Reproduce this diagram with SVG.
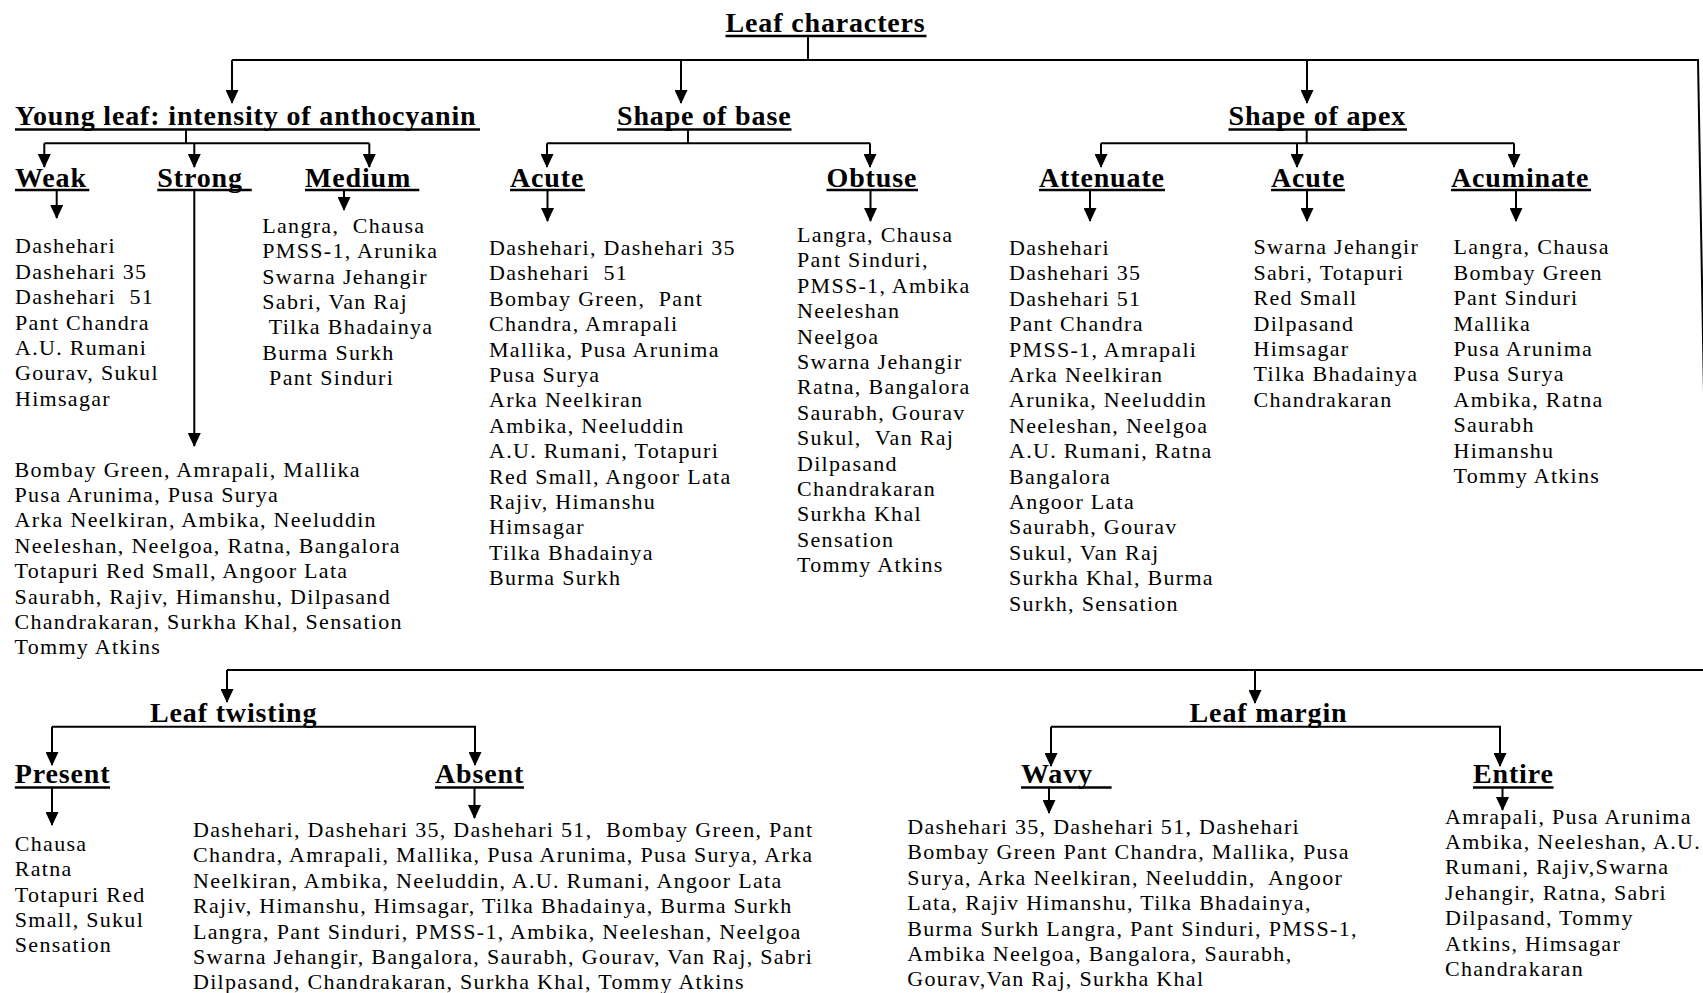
<svg xmlns="http://www.w3.org/2000/svg" width="1703" height="993" viewBox="0 0 1703 993">
<style>
.h{font-family:"Liberation Serif","Times New Roman",serif;font-weight:bold;font-size:28px;letter-spacing:0.85px;fill:#000}
.t{font-family:"Liberation Serif","Times New Roman",serif;font-size:22px;letter-spacing:1.3px;fill:#000}
.ul{stroke:#000;stroke-width:2.6;fill:none}
.c{stroke:#000;stroke-width:2;fill:none}
.a{marker-end:url(#ah)}
</style>
<defs>
<marker id="ah" markerUnits="userSpaceOnUse" markerWidth="14" markerHeight="13" refX="13" refY="6.5" orient="auto">
<path d="M0,0 L14,6.5 L0,13 Z" fill="#000"/>
</marker>
</defs>
<rect width="1703" height="993" fill="#fff"/>

<g id="connectors">
<path class="c" d="M808,37 V60 M232,60 H1698 L1709,670"/>
<path class="c a" d="M232,60 V103"/>
<path class="c a" d="M681,60 V103"/>
<path class="c a" d="M1307,60 V103"/>
<path class="c" d="M186,130 V143.3 M44.3,143.3 H369.3"/>
<path class="c a" d="M44.3,143.3 V167"/>
<path class="c a" d="M194.3,143.3 V167"/>
<path class="c a" d="M369.3,143.3 V167"/>
<path class="c" d="M688,130 V143.3 M547,143.3 H870"/>
<path class="c a" d="M547,143.3 V167"/>
<path class="c a" d="M870,143.3 V167"/>
<path class="c" d="M1306.7,130 V143.3 M1101,143.3 H1514"/>
<path class="c a" d="M1101,143.3 V167"/>
<path class="c a" d="M1297,143.3 V167"/>
<path class="c a" d="M1514,143.3 V167"/>
<path class="c a" d="M56.7,190 V218"/>
<path class="c a" d="M194.3,190 V446"/>
<path class="c a" d="M344,190 V210"/>
<path class="c a" d="M547.5,190 V221"/>
<path class="c a" d="M870.5,190 V221"/>
<path class="c a" d="M1090,190 V221"/>
<path class="c a" d="M1307,190 V221"/>
<path class="c a" d="M1516,190 V221"/>
<path class="c" d="M227,670 H1703"/>
<path class="c a" d="M227,670 V702"/>
<path class="c a" d="M1255,670 V703"/>
<path class="c" d="M52,726.7 H476"/>
<path class="c a" d="M52,726.7 V765"/>
<path class="c a" d="M475,726.7 V765"/>
<path class="c" d="M1051,726.7 H1501"/>
<path class="c a" d="M1051,726.7 V766"/>
<path class="c a" d="M1500,726.7 V766"/>
<path class="c a" d="M52,788 V825"/>
<path class="c a" d="M474.5,788 V818"/>
<path class="c a" d="M1049,788 V813"/>
<path class="c a" d="M1502.5,788 V810"/>
</g>

<g id="leaf-characters"><text class="h" x="725.5" y="32">Leaf characters</text><path class="ul" d="M725.5,36 H926.5"/></g>

<g id="young-leaf"><text class="h" x="15" y="125">Young leaf: intensity of anthocyanin</text><path class="ul" d="M15,129.5 H480"/></g>
<g id="shape-of-base"><text class="h" x="617" y="125">Shape of base</text><path class="ul" d="M617,129.5 H791.5"/></g>
<g id="shape-of-apex"><text class="h" x="1228.5" y="125">Shape of apex</text><path class="ul" d="M1228.5,129.5 H1407"/></g>

<g id="weak"><text class="h" x="15" y="186.7">Weak</text><path class="ul" d="M15,190 H89.3"/></g>
<g id="strong"><text class="h" x="157.3" y="186.7">Strong</text><path class="ul" d="M157.3,190 H251.7"/></g>
<g id="medium"><text class="h" x="305" y="186.7">Medium</text><path class="ul" d="M305,190 H419.3"/></g>
<g id="base-acute"><text class="h" x="510" y="186.7">Acute</text><path class="ul" d="M510,190 H585"/></g>
<g id="obtuse"><text class="h" x="826.5" y="186.7">Obtuse</text><path class="ul" d="M826.5,190 H918"/></g>
<g id="attenuate"><text class="h" x="1039" y="186.7">Attenuate</text><path class="ul" d="M1039,190 H1165"/></g>
<g id="apex-acute"><text class="h" x="1271" y="186.7">Acute</text><path class="ul" d="M1271,190 H1345"/></g>
<g id="acuminate"><text class="h" x="1451" y="186.7">Acuminate</text><path class="ul" d="M1451,190 H1591"/></g>

<g id="list-weak"><text class="t" x="15" y="253.3">
<tspan x="15" dy="0">Dashehari</tspan>
<tspan x="15" dy="25.4">Dashehari 35</tspan>
<tspan x="15" dy="25.4" xml:space="preserve">Dashehari  51</tspan>
<tspan x="15" dy="25.4">Pant Chandra</tspan>
<tspan x="15" dy="25.4">A.U. Rumani</tspan>
<tspan x="15" dy="25.4">Gourav, Sukul</tspan>
<tspan x="15" dy="25.4">Himsagar</tspan>
</text></g>

<g id="list-medium"><text class="t" x="262.3" y="232.7">
<tspan x="262.3" dy="0" xml:space="preserve">Langra,  Chausa</tspan>
<tspan x="262.3" dy="25.4">PMSS-1, Arunika</tspan>
<tspan x="262.3" dy="25.4">Swarna Jehangir</tspan>
<tspan x="262.3" dy="25.4">Sabri, Van Raj</tspan>
<tspan x="262.3" dy="25.4" xml:space="preserve"> Tilka Bhadainya</tspan>
<tspan x="262.3" dy="25.4">Burma Surkh</tspan>
<tspan x="262.3" dy="25.4" xml:space="preserve"> Pant Sinduri</tspan>
</text></g>

<g id="list-strong"><text class="t" x="14.5" y="476.5">
<tspan x="14.5" dy="0">Bombay Green, Amrapali, Mallika</tspan>
<tspan x="14.5" dy="25.4">Pusa Arunima, Pusa Surya</tspan>
<tspan x="14.5" dy="25.4">Arka Neelkiran, Ambika, Neeluddin</tspan>
<tspan x="14.5" dy="25.4">Neeleshan, Neelgoa, Ratna, Bangalora</tspan>
<tspan x="14.5" dy="25.4">Totapuri Red Small, Angoor Lata</tspan>
<tspan x="14.5" dy="25.4">Saurabh, Rajiv, Himanshu, Dilpasand</tspan>
<tspan x="14.5" dy="25.4">Chandrakaran, Surkha Khal, Sensation</tspan>
<tspan x="14.5" dy="25.4">Tommy Atkins</tspan>
</text></g>

<g id="list-base-acute"><text class="t" x="489" y="255">
<tspan x="489" dy="0">Dashehari, Dashehari 35</tspan>
<tspan x="489" dy="25.4" xml:space="preserve">Dashehari  51</tspan>
<tspan x="489" dy="25.4" xml:space="preserve">Bombay Green,  Pant</tspan>
<tspan x="489" dy="25.4">Chandra, Amrapali</tspan>
<tspan x="489" dy="25.4">Mallika, Pusa Arunima</tspan>
<tspan x="489" dy="25.4">Pusa Surya</tspan>
<tspan x="489" dy="25.4">Arka Neelkiran</tspan>
<tspan x="489" dy="25.4">Ambika, Neeluddin</tspan>
<tspan x="489" dy="25.4">A.U. Rumani, Totapuri</tspan>
<tspan x="489" dy="25.4">Red Small, Angoor Lata</tspan>
<tspan x="489" dy="25.4">Rajiv, Himanshu</tspan>
<tspan x="489" dy="25.4">Himsagar</tspan>
<tspan x="489" dy="25.4">Tilka Bhadainya</tspan>
<tspan x="489" dy="25.4">Burma Surkh</tspan>
</text></g>

<g id="list-obtuse"><text class="t" x="797" y="242">
<tspan x="797" dy="0">Langra, Chausa</tspan>
<tspan x="797" dy="25.4">Pant Sinduri,</tspan>
<tspan x="797" dy="25.4">PMSS-1, Ambika</tspan>
<tspan x="797" dy="25.4">Neeleshan</tspan>
<tspan x="797" dy="25.4">Neelgoa</tspan>
<tspan x="797" dy="25.4">Swarna Jehangir</tspan>
<tspan x="797" dy="25.4">Ratna, Bangalora</tspan>
<tspan x="797" dy="25.4">Saurabh, Gourav</tspan>
<tspan x="797" dy="25.4" xml:space="preserve">Sukul,  Van Raj</tspan>
<tspan x="797" dy="25.4">Dilpasand</tspan>
<tspan x="797" dy="25.4">Chandrakaran</tspan>
<tspan x="797" dy="25.4">Surkha Khal</tspan>
<tspan x="797" dy="25.4">Sensation</tspan>
<tspan x="797" dy="25.4">Tommy Atkins</tspan>
</text></g>

<g id="list-attenuate"><text class="t" x="1009" y="255">
<tspan x="1009" dy="0">Dashehari</tspan>
<tspan x="1009" dy="25.4">Dashehari 35</tspan>
<tspan x="1009" dy="25.4">Dashehari 51</tspan>
<tspan x="1009" dy="25.4">Pant Chandra</tspan>
<tspan x="1009" dy="25.4">PMSS-1, Amrapali</tspan>
<tspan x="1009" dy="25.4">Arka Neelkiran</tspan>
<tspan x="1009" dy="25.4">Arunika, Neeluddin</tspan>
<tspan x="1009" dy="25.4">Neeleshan, Neelgoa</tspan>
<tspan x="1009" dy="25.4">A.U. Rumani, Ratna</tspan>
<tspan x="1009" dy="25.4">Bangalora</tspan>
<tspan x="1009" dy="25.4">Angoor Lata</tspan>
<tspan x="1009" dy="25.4">Saurabh, Gourav</tspan>
<tspan x="1009" dy="25.4">Sukul, Van Raj</tspan>
<tspan x="1009" dy="25.4">Surkha Khal, Burma</tspan>
<tspan x="1009" dy="25.4">Surkh, Sensation</tspan>
</text></g>

<g id="list-apex-acute"><text class="t" x="1253.5" y="254.3">
<tspan x="1253.5" dy="0">Swarna Jehangir</tspan>
<tspan x="1253.5" dy="25.4">Sabri, Totapuri</tspan>
<tspan x="1253.5" dy="25.4">Red Small</tspan>
<tspan x="1253.5" dy="25.4">Dilpasand</tspan>
<tspan x="1253.5" dy="25.4">Himsagar</tspan>
<tspan x="1253.5" dy="25.4">Tilka Bhadainya</tspan>
<tspan x="1253.5" dy="25.4">Chandrakaran</tspan>
</text></g>

<g id="list-acuminate"><text class="t" x="1453.5" y="254.3">
<tspan x="1453.5" dy="0">Langra, Chausa</tspan>
<tspan x="1453.5" dy="25.4">Bombay Green</tspan>
<tspan x="1453.5" dy="25.4">Pant Sinduri</tspan>
<tspan x="1453.5" dy="25.4">Mallika</tspan>
<tspan x="1453.5" dy="25.4">Pusa Arunima</tspan>
<tspan x="1453.5" dy="25.4">Pusa Surya</tspan>
<tspan x="1453.5" dy="25.4">Ambika, Ratna</tspan>
<tspan x="1453.5" dy="25.4">Saurabh</tspan>
<tspan x="1453.5" dy="25.4">Himanshu</tspan>
<tspan x="1453.5" dy="25.4">Tommy Atkins</tspan>
</text></g>

<g id="leaf-twisting"><text class="h" x="150" y="721.7">Leaf twisting</text></g>
<g id="leaf-margin"><text class="h" x="1189.6" y="721.7">Leaf margin</text></g>
<g id="present"><text class="h" x="14.8" y="783.3">Present</text><path class="ul" d="M14.8,787.5 H110"/></g>
<g id="absent"><text class="h" x="435" y="783.3">Absent</text><path class="ul" d="M435,787.5 H524"/></g>
<g id="wavy"><text class="h" x="1021" y="783.3">Wavy</text><path class="ul" d="M1021,787.5 H1111.6"/></g>
<g id="entire"><text class="h" x="1473" y="783.3">Entire</text><path class="ul" d="M1473,787.5 H1553.6"/></g>

<g id="list-present"><text class="t" x="14.8" y="850.7">
<tspan x="14.8" dy="0">Chausa</tspan>
<tspan x="14.8" dy="25.4">Ratna</tspan>
<tspan x="14.8" dy="25.4">Totapuri Red</tspan>
<tspan x="14.8" dy="25.4">Small, Sukul</tspan>
<tspan x="14.8" dy="25.4">Sensation</tspan>
</text></g>

<g id="list-absent"><text class="t" x="193" y="837">
<tspan x="193" dy="0" xml:space="preserve">Dashehari, Dashehari 35, Dashehari 51,  Bombay Green, Pant</tspan>
<tspan x="193" dy="25.4">Chandra, Amrapali, Mallika, Pusa Arunima, Pusa Surya, Arka</tspan>
<tspan x="193" dy="25.4">Neelkiran, Ambika, Neeluddin, A.U. Rumani, Angoor Lata</tspan>
<tspan x="193" dy="25.4">Rajiv, Himanshu, Himsagar, Tilka Bhadainya, Burma Surkh</tspan>
<tspan x="193" dy="25.4">Langra, Pant Sinduri, PMSS-1, Ambika, Neeleshan, Neelgoa</tspan>
<tspan x="193" dy="25.4">Swarna Jehangir, Bangalora, Saurabh, Gourav, Van Raj, Sabri</tspan>
<tspan x="193" dy="25.4">Dilpasand, Chandrakaran, Surkha Khal, Tommy Atkins</tspan>
</text></g>

<g id="list-wavy"><text class="t" x="907.3" y="834">
<tspan x="907.3" dy="0">Dashehari 35, Dashehari 51, Dashehari</tspan>
<tspan x="907.3" dy="25.4">Bombay Green Pant Chandra, Mallika, Pusa</tspan>
<tspan x="907.3" dy="25.4" xml:space="preserve">Surya, Arka Neelkiran, Neeluddin,  Angoor</tspan>
<tspan x="907.3" dy="25.4">Lata, Rajiv Himanshu, Tilka Bhadainya,</tspan>
<tspan x="907.3" dy="25.4">Burma Surkh Langra, Pant Sinduri, PMSS-1,</tspan>
<tspan x="907.3" dy="25.4">Ambika Neelgoa, Bangalora, Saurabh,</tspan>
<tspan x="907.3" dy="25.4">Gourav,Van Raj, Surkha Khal</tspan>
</text></g>

<g id="list-entire"><text class="t" x="1445" y="823.5">
<tspan x="1445" dy="0">Amrapali, Pusa Arunima</tspan>
<tspan x="1445" dy="25.4">Ambika, Neeleshan, A.U.</tspan>
<tspan x="1445" dy="25.4">Rumani, Rajiv,Swarna</tspan>
<tspan x="1445" dy="25.4">Jehangir, Ratna, Sabri</tspan>
<tspan x="1445" dy="25.4">Dilpasand, Tommy</tspan>
<tspan x="1445" dy="25.4">Atkins, Himsagar</tspan>
<tspan x="1445" dy="25.4">Chandrakaran</tspan>
</text></g>
</svg>
